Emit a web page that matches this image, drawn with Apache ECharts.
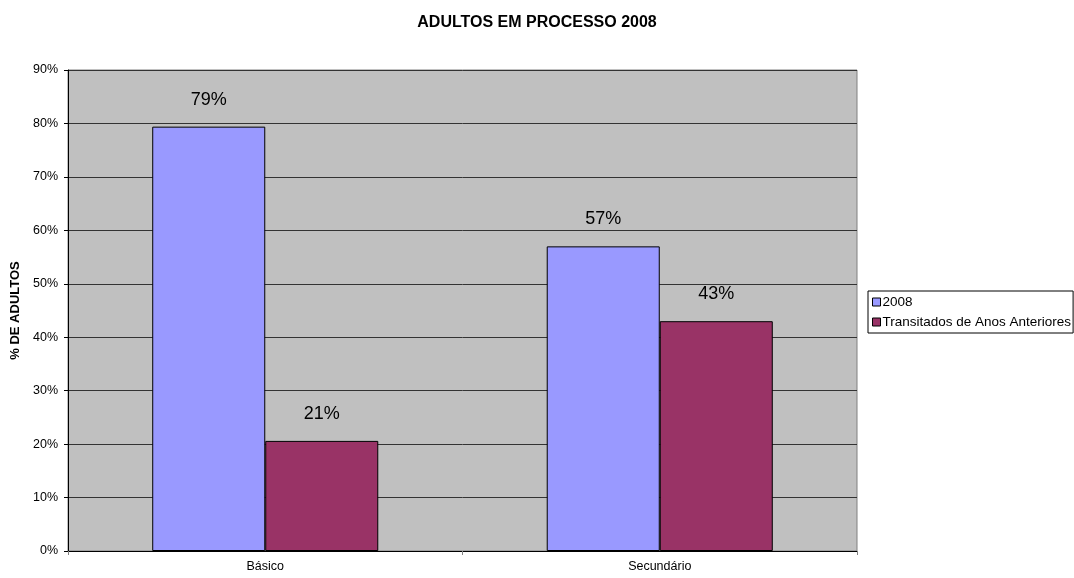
<!DOCTYPE html>
<html>
<head>
<meta charset="utf-8">
<script src="https://cdn.jsdelivr.net/npm/echarts@6/dist/echarts.min.js"></script>
<style>html,body{margin:0;padding:0;background:#fff;}#c{width:1074px;height:578px;}</style>
</head>
<body>
<div id="c"></div>
<script>
const categories = ['Básico', 'Secundário'];
const seriesNames = ['2008', 'Transitados de Anos Anteriores'];
const values2008 = [79.4, 57.0];
const valuesTransitados = [20.6, 43.0];
const yTicks = [0, 10, 20, 30, 40, 50, 60, 70, 80, 90];

const chart = echarts.init(document.getElementById('c'), null, {renderer: 'canvas'});
const font = 'Arial, "Liberation Sans", sans-serif';
const labelCfg = {
  show: true, position: 'top', distance: 18,
  fontFamily: font, fontSize: 18, color: '#000',
  formatter: p => Math.round(p.value) + '%'
};
chart.setOption({
  animation: false,
  title: {
    text: 'ADULTOS EM PROCESSO 2008', left: 'center', top: 10,
    textStyle: {fontFamily: font, fontSize: 16, fontWeight: 'bold', color: '#000'}
  },
  legend: {
    orient: 'vertical', left: 868, top: 291,
    data: seriesNames,
    icon: 'rect', itemWidth: 8, itemHeight: 8, itemGap: 6,
    borderColor: '#000', borderWidth: 1, padding: [4, 2, 4, 4],
    textStyle: {fontFamily: font, fontSize: 13.5, color: '#000', padding: [0, 0, 0, -3]},
    itemStyle: {borderColor: '#000', borderWidth: 1}
  },
  grid: {
    left: 68, right: 217, top: 70, bottom: 27,
    show: true, backgroundColor: '#c0c0c0', borderColor: '#808080', borderWidth: 1
  },
  xAxis: {
    type: 'category', data: categories,
    axisLine: {lineStyle: {color: '#000'}},
    axisTick: {show: true, length: 4, lineStyle: {color: '#808080'}},
    axisLabel: {fontFamily: font, fontSize: 12.5, color: '#000', margin: 9}
  },
  yAxis: {
    type: 'value', min: 0, max: 90, interval: 10,
    name: '% DE ADULTOS', nameLocation: 'middle', nameGap: 41, nameRotate: 90,
    nameTextStyle: {fontFamily: font, fontSize: 13, fontWeight: 'bold', color: '#000'},
    axisLine: {show: true, lineStyle: {color: '#000'}},
    axisTick: {show: true, length: 4, lineStyle: {color: '#000'}},
    axisLabel: {fontFamily: font, fontSize: 12.5, color: '#000', margin: 10,
      formatter: v => yTicks.includes(v) ? v + '%' : ''},
    splitLine: {show: true, lineStyle: {color: '#333', width: 1}}
  },
  series: [
    {
      name: seriesNames[0], type: 'bar', data: values2008,
      barGap: '0%', barCategoryGap: '42.7%',
      itemStyle: {color: '#9999ff', borderColor: '#000', borderWidth: 1},
      label: labelCfg
    },
    {
      name: seriesNames[1], type: 'bar', data: valuesTransitados,
      itemStyle: {color: '#993366', borderColor: '#000', borderWidth: 1},
      label: labelCfg
    }
  ]
});
</script>
</body>
</html>
